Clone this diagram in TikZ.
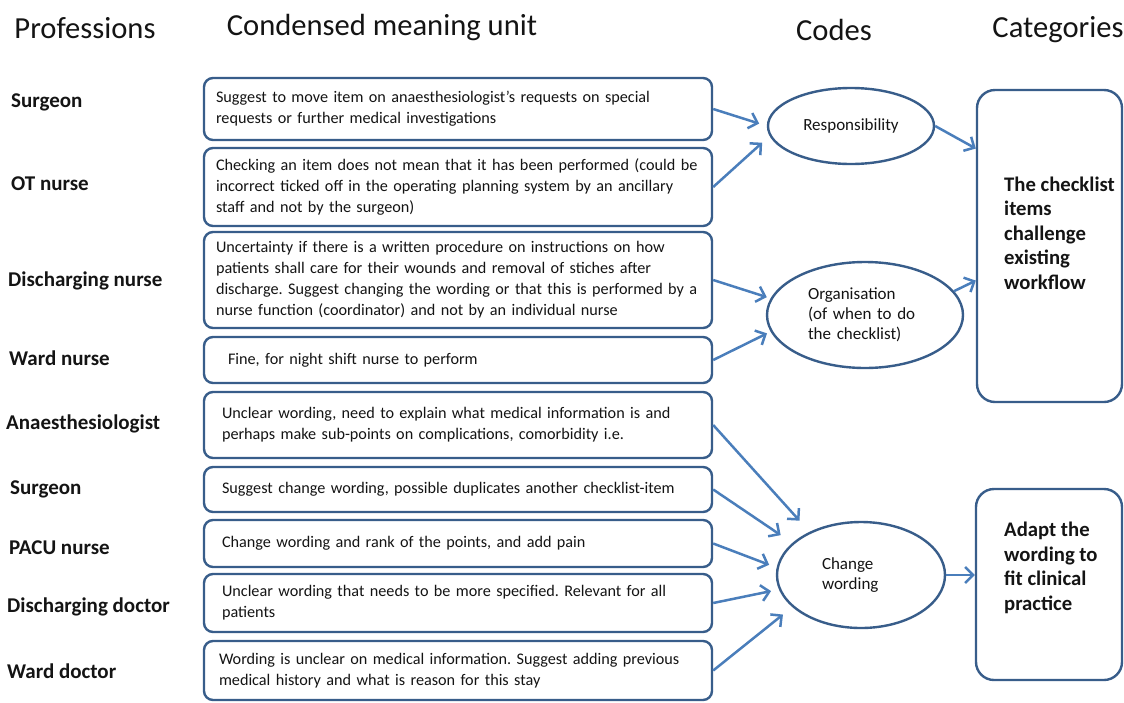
\documentclass[tikz,border=0pt]{standalone}
\usepackage{fontspec}
\setmainfont{Carlito}
\usetikzlibrary{shapes.geometric,arrows.meta,calc}
\definecolor{boxblue}{RGB}{56,93,138}
\definecolor{arrblue}{RGB}{74,126,187}
\definecolor{txt}{RGB}{20,20,20}
\frenchspacing
\begin{document}
\begin{tikzpicture}[x=1pt,y=-1pt,
  hdr/.style={font=\fontsize{30.6}{33}\selectfont, inner sep=0pt, text=txt},
  prof/.style={font=\bfseries\fontsize{21}{24}\selectfont, anchor=west, inner sep=0pt, text=txt},
  ubox/.style={draw=boxblue, line width=2.4pt, rounded corners=9pt, minimum width=508pt, text width=484pt, inner xsep=12pt, inner ysep=0pt, align=left, font=\fontsize{16.2}{21}\selectfont, text=txt},
  code/.style={draw=boxblue, line width=2.4pt, ellipse, inner sep=0pt, align=left, font=\fontsize{17}{20}\selectfont, text=txt},
  cat/.style={draw=boxblue, line width=2.4pt, rounded corners=18pt},
  cattext/.style={font=\bfseries\fontsize{20.7}{24.5}\selectfont, align=left, anchor=west, inner sep=0pt, text=txt},
  arr/.style={draw=arrblue, line width=2.5pt, -{Straight Barb[length=8pt,width=16pt]}}
]
\fill[white] (0,0) rectangle (1124,702);
\useasboundingbox (0,0) rectangle (1124,702);

% headers
\node[hdr] (hprof) at (85,28) {Professions};
\node[hdr] (hcmu) at (382,28) {Condensed meaning unit};
\node[hdr] (hcodes) at (834,30) {Codes};
\node[hdr] (hcat) at (1058,30) {Categories};

% professions
\node[prof] (p1) at (11,102) {Surgeon};
\node[prof] (p2) at (11,184) {OT nurse};
\node[prof] (p3) at (8,281) {Discharging nurse};
\node[prof] (p4) at (9,358) {Ward nurse};
\node[prof] (p5) at (6,424) {Anaesthesiologist};
\node[prof] (p6) at (10,489) {Surgeon};
\node[prof] (p7) at (9,548) {PACU nurse};
\node[prof] (p8) at (7,607) {Discharging doctor};
\node[prof] (p9) at (7,671) {Ward doctor};

% condensed meaning units
\node[ubox, minimum height=62pt] (b1) at (458,109) {\mbox{Suggest to move item on anaesthesiologist’s requests on special}\\requests or further medical investigations};
\node[ubox, minimum height=78pt] (b2) at (458,187) {\mbox{Checking an item does not mean that it has been performed (could be}\\\mbox{incorrect ticked off in the operating planning system by an ancillary}\\staff and not by the surgeon)};
\node[ubox, minimum height=96pt] (b3) at (458,280) {\mbox{Uncertainty if there is a written procedure on instructions on how}\\\mbox{patients shall care for their wounds and removal of stiches after}\\\mbox{discharge. Suggest changing the wording or that this is performed by a}\\\mbox{nurse function (coordinator) and not by an individual nurse}};
\node[ubox, minimum height=46pt] (b4) at (458,360) {\hspace*{12pt}Fine, for night shift nurse to perform};
\node[ubox, minimum height=66pt] (b5) at (458,425) {\hspace*{6pt}\mbox{Unclear wording, need to explain what medical information is and}\\\hspace*{6pt}\mbox{perhaps make sub-points on complications, comorbidity i.e.}};
\node[ubox, minimum height=45pt] (b6) at (458,489.5) {\hspace*{6pt}\mbox{Suggest change wording, possible duplicates another checklist-item}};
\node[ubox, minimum height=47pt] (b7) at (458,543.5) {\hspace*{6pt}Change wording and rank of the points, and add pain};
\node[ubox, minimum height=58pt] (b8) at (458,603) {\hspace*{6pt}\mbox{Unclear wording that needs to be more specified. Relevant for all}\\\hspace*{6pt}patients};
\node[ubox, minimum height=59pt] (b9) at (458,670.5) {\hspace*{3pt}\mbox{Wording is unclear on medical information. Suggest adding previous}\\\hspace*{3pt}\mbox{medical history and what is reason for this stay}};

% codes
\node[code, minimum width=166pt, minimum height=76pt] (resp) at (851,126) {Responsibility};
\node[code, minimum width=196pt, minimum height=106pt, text width=114pt] (org) at (865,315) {Organisation\\(of when to do\\the checklist)};
\node[code, minimum width=168pt, minimum height=106pt, text width=78pt] (chg) at (861,575) {Change\\wording};

% categories
\node[cat, minimum width=145pt, minimum height=312pt] (cat1) at (1049.5,246) {};
\node[cattext] (cat1t) at (1004,233) {The checklist\\items\\challenge\\existing\\workflow};
\node[cat, minimum width=146pt, minimum height=191pt] (cat2) at (1049,584.5) {};
\node[cattext] (cat2t) at (1004,568) {Adapt the\\wording to\\fit clinical\\practice};

% arrows
\draw[arr, shorten >=8pt] (b1.east) -- (resp.west);
\draw[arr, shorten >=10pt] (b2.east) -- (resp.187);
\draw[arr] (resp.east) -- ($(cat1.north west)!0.19!(cat1.south west)$);
\draw[arr, shorten >=4pt] (b3.east) -- (org.170);
\draw[arr, shorten >=4pt] (b4.east) -- (org.190);
\draw[arr] (org.15) -- ($(cat1.north west)!0.61!(cat1.south west)$);
\draw[arr, shorten >=15pt] (b5.east) -- (chg.140);
\draw[arr, shorten >=14pt] (b6.east) -- (chg.155);
\draw[arr, shorten >=8pt] (b7.east) -- (chg.175);
\draw[arr, shorten >=8pt] (b8.east) -- (chg.190);
\draw[arr, shorten >=12pt] (b9.east) -- (chg.205);
\draw[arr] (chg.east) -- (chg.east -| cat2.west);
\end{tikzpicture}
\end{document}
